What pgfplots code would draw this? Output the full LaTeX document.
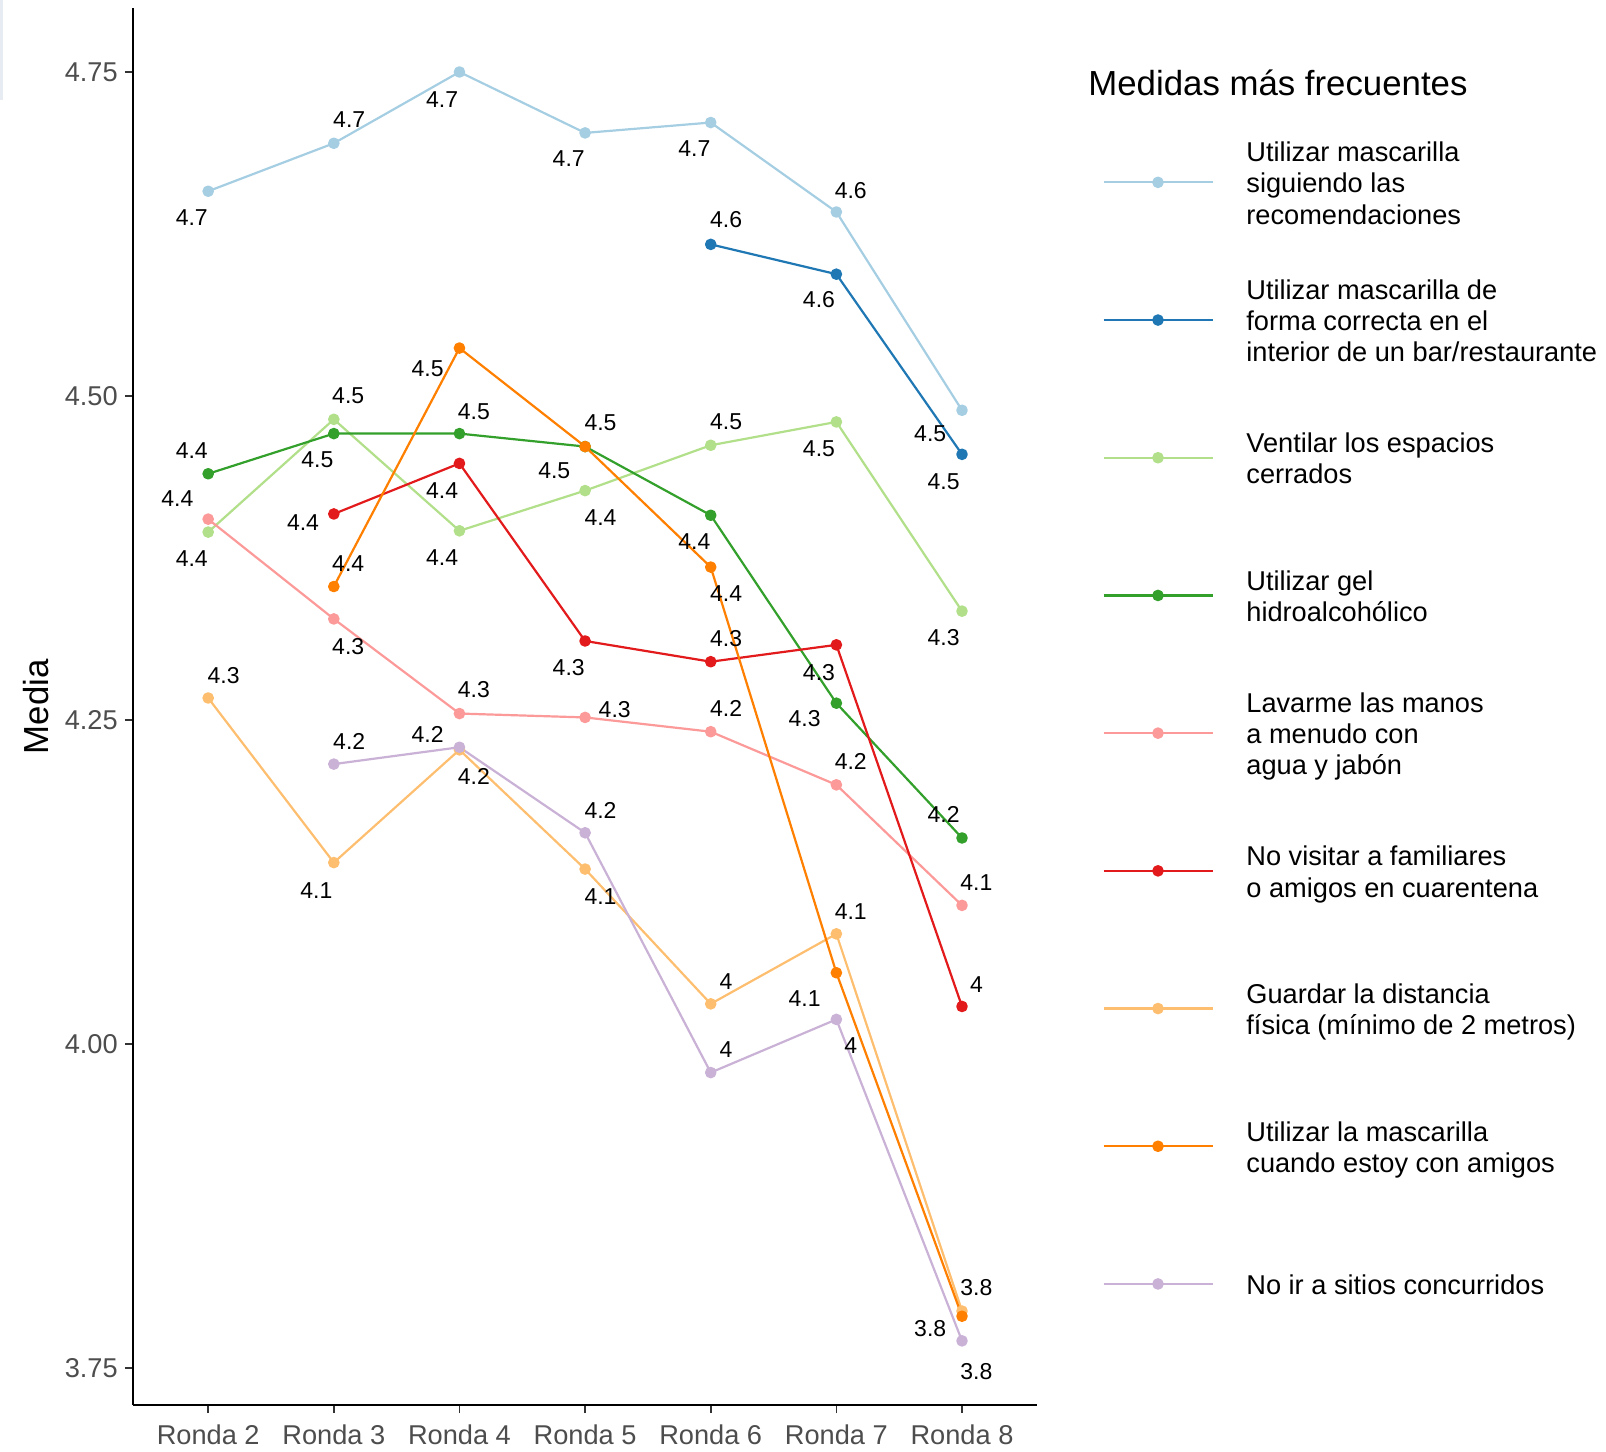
\documentclass[border=0pt]{standalone}
\usepackage{pgfplots}
\usepackage{pgfplotstable}
\pgfplotsset{compat=1.18}
\usepackage{fontspec}
\setmainfont{Liberation Sans}

\definecolor{cLB}{HTML}{A6CEE3}
\definecolor{cDB}{HTML}{1F78B4}
\definecolor{cLG}{HTML}{B2DF8A}
\definecolor{cG}{HTML}{33A02C}
\definecolor{cPK}{HTML}{FB9A99}
\definecolor{cRD}{HTML}{E31A1C}
\definecolor{cLO}{HTML}{FDBF6F}
\definecolor{cOR}{HTML}{FF7F00}
\definecolor{cLV}{HTML}{CAB2D6}
\definecolor{tickgray}{HTML}{4D4D4D}
\definecolor{boxgray}{HTML}{E6ECF2}

\newcommand\legtxt[1]{\begin{tabular}{@{}l@{}}#1\end{tabular}}

\pgfplotstableread{
x y lab dx dy
2 4.658 4.7 -8.2 -13.3
3 4.695 4.7 7.7 11.8
4 4.750 4.7 -8.7 -13.8
5 4.703 4.7 -8.2 -12.8
6 4.711 4.7 -8.2 -12.8
7 4.642 4.6 7.2 10.8
8 4.489 4.5 -15.9 -11.8
}\tLB
\pgfplotstableread{
x y lab dx dy
6 4.617 4.6 7.7 12.3
7 4.594 4.6 -8.7 -12.8
8 4.455 4.5 -9.2 -13.8
}\tDB
\pgfplotstableread{
x y lab dx dy
2 4.395 4.4 -8.2 -13.3
3 4.482 4.5 7.2 11.8
4 4.396 4.4 -8.7 -13.3
5 4.427 4.4 7.7 -13.3
6 4.462 4.5 7.7 11.8
7 4.480 4.5 -8.7 -13.3
8 4.334 4.3 -9.2 -13.3
}\tLG
\pgfplotstableread{
x y lab dx dy
2 4.440 4.4 -8.2 11.8
3 4.471 4.5 -8.2 -13.3
4 4.471 4.5 7.2 10.8
5 4.461 4.5 -15.4 -12.3
6 4.408 4.4 -8.2 -13.3
7 4.263 4.3 -15.9 -7.7
8 4.159 4.2 -9.2 11.8
}\tG
\pgfplotstableread{
x y lab dx dy
2 4.405 4.4 -15.4 10.2
3 4.328 4.3 7.2 -13.8
4 4.255 4.3 7.2 11.8
5 4.252 4.3 14.8 4.1
6 4.241 4.2 7.7 11.8
7 4.200 4.2 7.2 11.8
8 4.107 4.1 7.2 11.3
}\tPK
\pgfplotstableread{
x y lab dx dy
3 4.409 4.4 -15.4 -4.1
4 4.448 4.4 -8.7 -13.8
5 4.311 4.3 -8.2 -13.3
6 4.295 4.3 7.7 11.8
7 4.308 4.3 -8.7 -13.8
8 4.029 4 7.2 10.8
}\tRD
\pgfplotstableread{
x y lab dx dy
2 4.267 4.3 7.7 11.3
3 4.140 4.1 -8.7 -13.8
4 4.227 4.2 -15.9 7.7
5 4.135 4.1 7.7 -13.8
6 4.031 4 7.7 11.3
7 4.085 4.1 7.2 11.3
8 3.794 3.8 7.2 11.8
}\tLO
\pgfplotstableread{
x y lab dx dy
3 4.353 4.4 7.2 11.3
4 4.537 4.5 -15.9 -10.2
5 4.461 4.5 7.7 11.8
6 4.368 4.4 7.7 -13.3
7 4.055 4.1 -15.9 -12.8
8 3.790 3.8 -15.9 -6.1
}\tOR
\pgfplotstableread{
x y lab dx dy
3 4.216 4.2 7.7 11.3
4 4.229 4.2 7.2 -14.8
5 4.163 4.2 7.7 11.3
6 3.978 4 7.7 11.3
7 4.019 4 7.2 -13.3
8 3.771 3.8 7.2 -15.4
}\tLV

\pgfplotsset{
  series/.style={color=#1, line width=1.1pt, line join=round, mark=*, mark size=2.35pt,
    mark options={solid, fill=#1, draw=#1},
    nodes near coords, point meta=explicit symbolic,
    visualization depends on={\thisrow{dx}\as\lblx},
    visualization depends on={\thisrow{dy}\as\lbly},
    every node near coord/.append style={anchor=center, xshift=\lblx pt, yshift=\lbly pt,
      text=black, font=\fontsize{11.5}{13}\selectfont, inner sep=0pt}},
}

\begin{document}
\begin{tikzpicture}
\begin{axis}[
  scale only axis,
  width=452.3pt, height=698.25pt,
  xmin=1.4, xmax=8.6,
  ymin=3.7215, ymax=4.799,
  axis lines=left,
  axis line style={-, black, line width=1pt},
  clip=false,
  xtick={2,3,4,5,6,7,8},
  xticklabels={Ronda 2,Ronda 3,Ronda 4,Ronda 5,Ronda 6,Ronda 7,Ronda 8},
  ytick={3.75,4,4.25,4.5,4.75},
  tick align=outside,
  major tick length=4pt,
  tick style={color=black!80, line width=0.8pt},
  /pgf/number format/assume math mode=true,
  tick label style={font=\fontsize{13.6}{16}\selectfont, text=tickgray},
  x tick label style={yshift=-2.5pt},
  y tick label style={/pgf/number format/fixed, /pgf/number format/fixed zerofill, /pgf/number format/precision=2},
  ylabel={Media},
  ylabel style={font=\fontsize{17.4}{20}\selectfont, at={(axis description cs:-0.1065,0.5)}, anchor=center},
  legend cell align=left,
  legend image code/.code={\draw[mark repeat=2, mark phase=2, #1] plot coordinates {(0pt,2.2pt) (27.25pt,2.2pt) (54.5pt,2.2pt)};},
  legend style={draw=none, fill=none, inner sep=0pt, row sep=0pt, column sep=16.4pt,
    at={(1,1)}, anchor=north west, xshift=32.3pt, yshift=-54.5pt,
    font=\fontsize{13.6}{15.6}\selectfont,
    nodes={inner sep=0pt, text depth=, text height=, minimum height=68.85pt},
    cells={anchor=west}},
]
\addplot[series=cLB] table[x=x, y=y, meta=lab] {\tLB};
\addlegendentry{\legtxt{Utilizar mascarilla\\siguiendo las\\recomendaciones}}
\addplot[series=cDB] table[x=x, y=y, meta=lab] {\tDB};
\addlegendentry{\legtxt{Utilizar mascarilla de\\forma correcta en el\\interior de un bar/restaurante}}
\addplot[series=cLG] table[x=x, y=y, meta=lab] {\tLG};
\addlegendentry{\legtxt{Ventilar los espacios\\cerrados}}
\addplot[series=cG] table[x=x, y=y, meta=lab] {\tG};
\addlegendentry{\legtxt{Utilizar gel\\hidroalcohólico}}
\addplot[series=cPK] table[x=x, y=y, meta=lab] {\tPK};
\addlegendentry{\legtxt{Lavarme las manos\\a menudo con\\agua y jabón}}
\addplot[series=cRD] table[x=x, y=y, meta=lab] {\tRD};
\addlegendentry{\legtxt{No visitar a familiares\\o amigos en cuarentena}}
\addplot[series=cLO] table[x=x, y=y, meta=lab] {\tLO};
\addlegendentry{\legtxt{Guardar la distancia\\física (mínimo de 2 metros)}}
\addplot[series=cOR] table[x=x, y=y, meta=lab] {\tOR};
\addlegendentry{\legtxt{Utilizar la mascarilla\\cuando estoy con amigos}}
\addplot[series=cLV] table[x=x, y=y, meta=lab] {\tLV};
\addlegendentry{\legtxt{No ir a sitios concurridos}}

\node[anchor=base west, font=\fontsize{17.4}{20}\selectfont, inner sep=0pt]
  at ([xshift=25.3pt, yshift=-43.3pt]rel axis cs:1,1) {Medidas más frecuentes};
\end{axis}
\fill[boxgray] (-66.4pt,702.5pt) rectangle (-64.9pt,652.5pt);
\pgfresetboundingbox
\useasboundingbox (-66.4pt,-23pt) rectangle (736.6pt,702.5pt);
\end{tikzpicture}
\end{document}
